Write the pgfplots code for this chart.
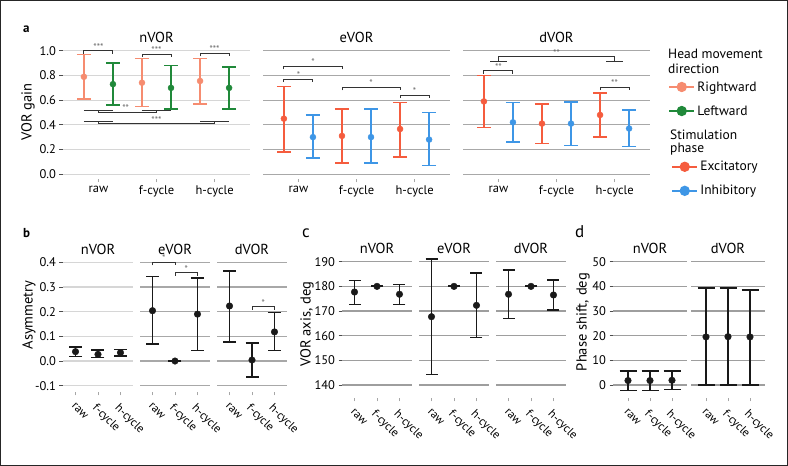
\documentclass[border=0pt]{standalone}
\usepackage{fontspec}
\setmainfont{PT Sans}
\usepackage{pgfplots}
\pgfplotsset{compat=1.18}

\definecolor{rightc}{RGB}{246,140,112}
\definecolor{leftc}{RGB}{32,137,58}
\definecolor{excc}{RGB}{245,92,62}
\definecolor{inhc}{RGB}{62,150,230}
\definecolor{gridlt}{RGB}{214,214,214}
\definecolor{griddk}{RGB}{168,168,168}
\definecolor{ink}{RGB}{25,25,25}

\newcommand{\ticksize}{\fontsize{12.5}{13}\selectfont}
\newcommand{\catsize}{\fontsize{12.5}{13}\selectfont}
\newcommand{\rotsize}{\fontsize{11.8}{12}\selectfont}
\newcommand{\titlesize}{\fontsize{14.5}{15}\selectfont}
\newcommand{\legsize}{\fontsize{13.5}{15}\selectfont}
\newcommand{\starsize}{\fontsize{9.5}{9.5}\selectfont}

\tikzset{
  sigl/.style={line width=0.9pt, draw=black!80},
  sigt/.style={anchor=base, inner sep=0pt, font=\starsize, text=black!60, yshift=0.5pt},
}
% bracket: x1, x2, y, x of label, label
\newcommand{\sigbr}[5]{%
  \draw[sigl] ([yshift=-3pt]axis cs:#1,#3) -- (axis cs:#1,#3) -- (axis cs:#2,#3) -- ([yshift=-3pt]axis cs:#2,#3);
  \node[sigt] at (axis cs:#4,#3) {#5};}

\pgfplotsset{
  panel/.style={scale only axis, clip=false, axis line style={draw=none},
    ymajorgrids, grid style={line width=1.1pt, color=griddk},
    xtick={1,2,3}, xticklabels={raw,f-cycle,h-cycle},
    tick pos=left, tick align=outside, major tick length=3.5pt,
    xtick style={color=black!35, line width=0.7pt},
    ytick style={color=black!70, line width=0.9pt},
    xticklabel style={font=\catsize},
    yticklabel style={font=\ticksize},
    /pgf/number format/assume math mode=true,
    title style={font=\titlesize, at={(0.5,1)}, anchor=base, yshift=-2.5pt},
    ylabel style={font=\titlesize, anchor=center},
  },
  lower/.style={title style={yshift=-2.5pt}},
  inner/.style={yticklabels={}, ytick style={draw=none}},
  rot/.style={xticklabel style={rotate=-45, anchor=north west, font=\rotsize, xshift=1.5pt, yshift=-1.5pt}},
  onedec/.style={yticklabel style={/pgf/number format/.cd, fixed, fixed zerofill, precision=1}},
  ebar/.style n args={4}{only marks, mark=*, mark size=#3, color=#1,
    error bars/.cd, y dir=both, y explicit,
    error bar style={line width=#2, color=#1},
    error mark options={rotate=90, line width=#2, color=#1, mark size=#4}},
  legimg/.style={line width=2.2pt, mark=*, mark size=4pt},
  legcode/.style={legend image code/.code={\draw[mark repeat=2,mark phase=2,##1] plot coordinates {(0pt,0pt) (12.5pt,0pt) (25pt,0pt)};}},
}

\begin{document}
\begin{tikzpicture}
\useasboundingbox (0,0) rectangle (788pt,466pt);
\fill[white] (0,0) rectangle (788pt,466pt);
\draw[line width=1.2pt, black!85] (0.6pt,0.6pt) rectangle (787.4pt,465.4pt);

% ---------------- panel a ----------------
\begin{axis}[panel, onedec, at={(63pt,287pt)}, anchor=south west, width=187pt, height=133pt,
  xmin=0.39, xmax=3.61, ymin=-0.04, ymax=1.04, ytick={0,0.2,0.4,0.6,0.8,1.0},
  grid style={color=gridlt}, title=nVOR, ylabel=VOR gain,
  ylabel style={at={(axis description cs:-0.187,0.504)}},
  legcode,
  legend style={at={(axis description cs:3.235,0.75)}, anchor=north west, draw=none, fill=none,
    font=\legsize, inner sep=0pt, row sep=9pt},
  legend cell align=left]
\addlegendimage{legimg, rightc}\addlegendentry{Rightward}
\addlegendimage{legimg, leftc}\addlegendentry{Leftward}
\addplot[forget plot, ebar={rightc}{1.5pt}{3pt}{7pt}] coordinates {
  (0.75,0.79) += (0,0.18) -= (0,0.18)
  (1.75,0.742) += (0,0.198) -= (0,0.192)
  (2.75,0.756) += (0,0.184) -= (0,0.186)};
\addplot[forget plot, ebar={leftc}{1.5pt}{3pt}{7pt}] coordinates {
  (1.25,0.73) += (0,0.17) -= (0,0.17)
  (2.25,0.70) += (0,0.18) -= (0,0.17)
  (3.25,0.70) += (0,0.17) -= (0,0.17)};
\sigbr{0.75}{1.25}{1.0}{1.0}{***}
\sigbr{1.75}{2.25}{0.973}{2.0}{***}
\sigbr{2.75}{3.25}{0.98}{3.0}{***}
\draw[sigl] (axis cs:0.75,0.515) -- (axis cs:1.25,0.515);
\draw[sigl] (axis cs:1.75,0.515) -- (axis cs:2.25,0.515);
\draw[sigl] (axis cs:1,0.515) |- (axis cs:2,0.50) -- (axis cs:2,0.515);
\node[sigt] at (axis cs:1.47,0.50) {**};
\draw[sigl] (axis cs:0.75,0.425) -- (axis cs:1.25,0.425);
\draw[sigl] (axis cs:2.75,0.425) -- (axis cs:3.25,0.425);
\draw[sigl] (axis cs:1,0.425) |- (axis cs:3,0.41) -- (axis cs:3,0.425);
\node[sigt] at (axis cs:2,0.41) {***};
\end{axis}

\begin{axis}[panel, inner, at={(263pt,287pt)}, anchor=south west, width=187pt, height=133pt,
  xmin=0.39, xmax=3.61, ymin=-0.04, ymax=1.04, ytick={0,0.2,0.4,0.6,0.8,1.0}, title=eVOR]
\addplot[ebar={excc}{1.5pt}{3pt}{7pt}] coordinates {
  (0.75,0.45) += (0,0.26) -= (0,0.27)
  (1.75,0.31) += (0,0.22) -= (0,0.22)
  (2.75,0.366) += (0,0.214) -= (0,0.226)};
\addplot[ebar={inhc}{1.5pt}{3pt}{7pt}] coordinates {
  (1.25,0.30) += (0,0.18) -= (0,0.17)
  (2.25,0.30) += (0,0.23) -= (0,0.21)
  (3.25,0.28) += (0,0.22) -= (0,0.21)};
\sigbr{0.75}{1.25}{0.772}{1.0}{*}
\sigbr{0.75}{1.75}{0.875}{1.25}{*}
\sigbr{1.75}{2.75}{0.705}{2.25}{*}
\sigbr{2.75}{3.25}{0.642}{3.0}{*}
\end{axis}

\begin{axis}[panel, inner, at={(463pt,287pt)}, anchor=south west, width=187pt, height=133pt,
  xmin=0.39, xmax=3.61, ymin=-0.04, ymax=1.04, ytick={0,0.2,0.4,0.6,0.8,1.0}, title=dVOR,
  legcode,
  legend style={at={(axis description cs:1.112,0.15)}, anchor=north west, draw=none, fill=none,
    font=\legsize, inner sep=0pt, row sep=9pt},
  legend cell align=left]
\addlegendimage{legimg, excc}\addlegendentry{Excitatory}
\addlegendimage{legimg, inhc}\addlegendentry{Inhibitory}
\addplot[forget plot, ebar={excc}{1.5pt}{3pt}{7pt}] coordinates {
  (0.75,0.59) += (0,0.21) -= (0,0.21)
  (1.75,0.41) += (0,0.16) -= (0,0.16)
  (2.75,0.48) += (0,0.18) -= (0,0.18)};
\addplot[forget plot, ebar={inhc}{1.5pt}{3pt}{7pt}] coordinates {
  (1.25,0.42) += (0,0.16) -= (0,0.16)
  (2.25,0.41) += (0,0.175) -= (0,0.18)
  (3.25,0.37) += (0,0.15) -= (0,0.145)};
\sigbr{0.75}{1.25}{0.84}{1.0}{**}
\sigbr{2.75}{3.25}{0.705}{3.0}{**}
\draw[sigl] (axis cs:0.86,0.915) -- (axis cs:1.14,0.915);
\draw[sigl] (axis cs:2.86,0.915) -- (axis cs:3.14,0.915);
\draw[sigl] (axis cs:1,0.915) |- (axis cs:3,0.954) -- (axis cs:3,0.915);
\node[sigt] at (axis cs:2,0.954) {**};
\end{axis}

% ---------------- panel b ----------------
\begin{axis}[panel, lower, rot, onedec, at={(63pt,74pt)}, anchor=south west, width=70pt, height=137pt,
  xmin=0.444, xmax=3.556, ymin=-0.1255, ymax=0.4296, ytick={-0.1,0,0.1,0.2,0.3,0.4},
  grid style={color=gridlt}, title=nVOR, ylabel=Asymmetry,
  ylabel style={at={(axis description cs:-0.486,0.562)}}]
\addplot[ebar={ink}{1.6pt}{3.3pt}{6.5pt}] coordinates {
  (1,0.038) += (0,0.020) -= (0,0.020)
  (2,0.027) += (0,0.018) -= (0,0.012)
  (3,0.034) += (0,0.012) -= (0,0.014)};
\end{axis}

\begin{axis}[panel, lower, rot, inner, at={(140pt,74pt)}, anchor=south west, width=70pt, height=137pt,
  xmin=0.444, xmax=3.556, ymin=-0.1255, ymax=0.4296, ytick={-0.1,0,0.1,0.2,0.3,0.4}, title=eVOR]
\addplot[ebar={ink}{1.6pt}{3.3pt}{6.5pt}] coordinates {
  (1,0.204) += (0,0.138) -= (0,0.135)
  (2,0.0) += (0,0.001) -= (0,0.001)
  (3,0.19) += (0,0.146) -= (0,0.148)};
\sigbr{1}{2}{0.40}{1.5}{*}
\sigbr{2}{3}{0.358}{2.5}{*}
\end{axis}

\begin{axis}[panel, lower, rot, inner, at={(217pt,74pt)}, anchor=south west, width=70pt, height=137pt,
  xmin=0.444, xmax=3.556, ymin=-0.1255, ymax=0.4296, ytick={-0.1,0,0.1,0.2,0.3,0.4}, title=dVOR]
\addplot[ebar={ink}{1.6pt}{3.3pt}{6.5pt}] coordinates {
  (1,0.223) += (0,0.141) -= (0,0.146)
  (2,0.004) += (0,0.069) -= (0,0.069)
  (3,0.118) += (0,0.078) -= (0,0.076)};
\sigbr{2}{3}{0.22}{2.5}{*}
\end{axis}

% ---------------- panel c ----------------
\begin{axis}[panel, lower, rot, at={(342pt,68pt)}, anchor=south west, width=70pt, height=143pt,
  xmin=0.444, xmax=3.556, ymin=134.73, ymax=192.72, ytick={140,150,160,170,180,190},
  grid style={color=black!38}, title=nVOR, ylabel={VOR axis, deg},
  ylabel style={at={(axis description cs:-0.5,0.517)}}]
\addplot[ebar={ink}{1.6pt}{3.3pt}{6pt}] coordinates {
  (1,177.7) += (0,4.6) -= (0,5.1)
  (2,180) += (0,0.05) -= (0,0.05)
  (3,176.8) += (0,3.9) -= (0,4.2)};
\end{axis}

\begin{axis}[panel, lower, rot, inner, at={(419pt,68pt)}, anchor=south west, width=70pt, height=143pt,
  xmin=0.444, xmax=3.556, ymin=134.73, ymax=192.72, ytick={140,150,160,170,180,190},
  grid style={color=black!38}, title=eVOR]
\addplot[ebar={ink}{1.6pt}{3.3pt}{6pt}] coordinates {
  (1,167.7) += (0,23.5) -= (0,23.5)
  (2,180) += (0,0.05) -= (0,0.05)
  (3,172.3) += (0,13.0) -= (0,13.1)};
\end{axis}

\begin{axis}[panel, lower, rot, inner, at={(496pt,68pt)}, anchor=south west, width=70pt, height=143pt,
  xmin=0.444, xmax=3.556, ymin=134.73, ymax=192.72, ytick={140,150,160,170,180,190},
  grid style={color=black!38}, title=dVOR]
\addplot[ebar={ink}{1.6pt}{3.3pt}{6pt}] coordinates {
  (1,176.8) += (0,9.8) -= (0,9.9)
  (2,180) += (0,0.05) -= (0,0.05)
  (3,176.5) += (0,6.1) -= (0,6.2)};
\end{axis}

% ---------------- panel d ----------------
\begin{axis}[panel, lower, rot, at={(613pt,68pt)}, anchor=south west, width=74pt, height=143pt,
  xmin=0.318, xmax=3.682, ymin=-5.27, ymax=52.72, ytick={0,10,20,30,40,50},
  grid style={color=black!38}, title=nVOR, ylabel={Phase shift, deg},
  ylabel style={at={(axis description cs:-0.405,0.531)}}]
\addplot[ebar={ink}{1.7pt}{3.3pt}{8.5pt}] coordinates {
  (1,1.8) += (0,3.9) -= (0,4.0)
  (2,1.8) += (0,3.9) -= (0,4.0)
  (3,1.9) += (0,3.8) -= (0,3.7)};
\end{axis}

\begin{axis}[panel, lower, rot, inner, at={(691pt,68pt)}, anchor=south west, width=74pt, height=143pt,
  xmin=0.318, xmax=3.682, ymin=-5.27, ymax=52.72, ytick={0,10,20,30,40,50},
  grid style={color=black!38}, title=dVOR]
\addplot[ebar={ink}{1.7pt}{3.3pt}{8.5pt}] coordinates {
  (1,19.5) += (0,19.8) -= (0,19.6)
  (2,19.6) += (0,19.7) -= (0,19.7)
  (3,19.5) += (0,19.1) -= (0,19.4)};
\end{axis}

% legend titles and panel letters
\node[anchor=base west, font=\legsize, inner sep=0pt] at (668pt,407pt) {Head movement};
\node[anchor=base west, font=\legsize, inner sep=0pt] at (668pt,392pt) {direction};
\node[anchor=base west, font=\legsize, inner sep=0pt] at (670pt,326pt) {Stimulation};
\node[anchor=base west, font=\legsize, inner sep=0pt] at (670pt,313pt) {phase};
\node[anchor=base west, font=\bfseries\fontsize{13}{13}\selectfont, inner sep=0pt] at (23pt,433pt) {a};
\node[anchor=base west, font=\bfseries\fontsize{13}{13}\selectfont, inner sep=0pt] at (23pt,228pt) {b};
\node[anchor=base west, font=\fontsize{17}{17}\selectfont, inner sep=0pt] at (302pt,228pt) {c};
\node[anchor=base west, font=\fontsize{17}{17}\selectfont, inner sep=0pt] at (575pt,228pt) {d};
\end{tikzpicture}
\end{document}
